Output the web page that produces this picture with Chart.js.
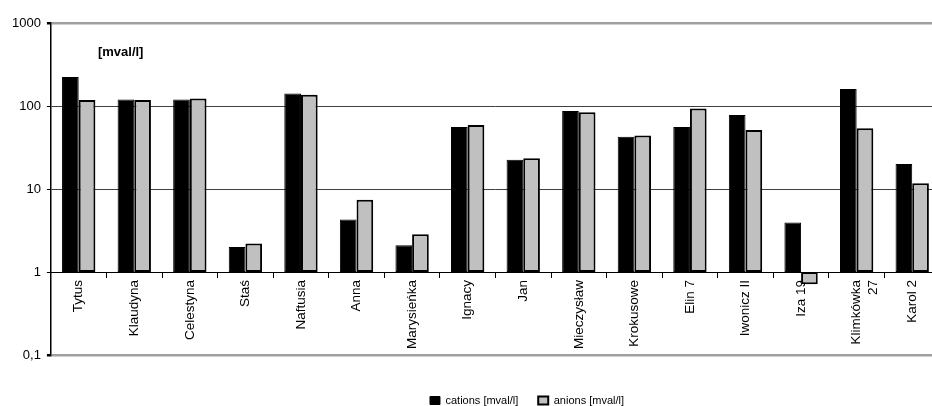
<!DOCTYPE html>
<html>
<head>
<meta charset="utf-8">
<script src="https://cdn.jsdelivr.net/npm/chart.js@4.4.1/dist/chart.umd.min.js"></script>
<style>
  html, body { margin: 0; padding: 0; background: #fff; overflow: hidden; }
  #wrap { position: relative; width: 942px; height: 406px; }
</style>
</head>
<body>
<div id="wrap"><canvas id="chart"></canvas></div>
<script>
// categories (springs)
const categories = ['Tytus', 'Klaudyna', 'Celestyna', 'Staś', 'Naftusia', 'Anna', 'Marysieńka',
    'Ignacy', 'Jan', 'Mieczysław', 'Krokusowe', 'Elin 7', 'Iwonicz II', 'Iza 19', ['Klimkówka', '27'], 'Karol 2'];
// series values [mval/l]
const cations = [224, 120, 120, 2.0, 141, 4.3, 2.1, 56, 22.5, 87, 42.5, 56, 78, 3.95, 160, 20];
const anions = [118, 118, 123, 2.2, 137, 7.4, 2.85, 59, 23.4, 84, 44, 93, 51.5, 0.71, 54, 11.7];
// y axis ticks and labels
const yTicks = [0.1, 1, 10, 100, 1000];
const yTickLabels = ['0,1', '1', '10', '100', '1000'];
const seriesNames = ['cations [mval/l]', 'anions [mval/l]'];
const unitLabel = '[mval/l]';
// bars start at the axis crossing (1), like in the spreadsheet
const baseline = 1;

const FONT = "Arial, 'Liberation Sans', sans-serif";

// unit label inside the plot area
const unitText = {
    id: 'unitText',
    afterDraw(chart) {
        const {ctx, chartArea} = chart;
        ctx.save();
        ctx.font = 'bold 13px ' + FONT;
        ctx.fillStyle = '#000';
        ctx.textAlign = 'left';
        ctx.textBaseline = 'middle';
        ctx.fillText(unitLabel, chartArea.left + 47, chartArea.top + 29);
        ctx.restore();
    }
};

// legend sits lower and to the right of the centre in the original
const legendShift = {
    id: 'legendShift',
    afterLayout(chart) {
        const lg = chart.legend;
        lg.left += 54; lg.right += 54;
        lg.top += 20; lg.bottom += 20;
    }
};

const gridColor = (ctx) => {
    const v = ctx.tick && ctx.tick.value;
    if (v === 1000 || v === 0.1) return '#a0a0a0';
    if (v === 1) return '#000';
    return '#404040';
};
const gridWidth = (ctx) => {
    const v = ctx.tick && ctx.tick.value;
    return (v === 1000 || v === 0.1) ? 2.5 : 1;
};

new Chart(document.getElementById('chart'), {
    type: 'bar',
    data: {
        labels: categories,
        datasets: [
            {
                label: seriesNames[0],
                data: cations.map(v => [baseline, v]),
                backgroundColor: '#000',
                borderColor: '#000',
                borderWidth: 1,
                borderSkipped: false
            },
            {
                label: seriesNames[1],
                data: anions.map(v => [baseline, v]),
                backgroundColor: '#c0c0c0',
                borderColor: '#000',
                borderWidth: 2,
                borderSkipped: false
            }
        ]
    },
    options: {
        responsive: true,
        maintainAspectRatio: false,
        animation: false,
        layout: { padding: { left: 6, right: 2, top: 23, bottom: 10 } },
        datasets: { bar: { categoryPercentage: 0.6, barPercentage: 1 } },
        scales: {
            x: {
                type: 'category',
                position: { y: baseline },
                offset: true,
                grid: { drawOnChartArea: false, drawTicks: true, tickLength: 5, color: '#000', offset: true },
                border: { display: true, color: '#000', width: 1 },
                ticks: {
                    autoSkip: false, minRotation: 90, maxRotation: 90, padding: 3,
                    color: '#000', font: { family: FONT, size: 13.5 }
                }
            },
            y: {
                type: 'logarithmic',
                min: yTicks[0],
                max: yTicks[yTicks.length - 1],
                afterBuildTicks: (scale) => { scale.ticks = yTicks.map(v => ({value: v})); },
                grid: { color: gridColor, lineWidth: gridWidth, tickColor: '#000', tickLength: 4 },
                border: { display: true, color: '#000', width: 1.5 },
                ticks: {
                    padding: 6, color: '#000', font: { family: FONT, size: 13 },
                    callback: (value) => yTickLabels[yTicks.indexOf(value)]
                }
            }
        },
        plugins: {
            legend: {
                position: 'bottom',
                labels: {
                    boxWidth: 10, boxHeight: 8, padding: 20,
                    color: '#000', font: { family: FONT, size: 11 }
                }
            },
            tooltip: { enabled: false }
        }
    },
    plugins: [unitText, legendShift]
});
</script>
</body>
</html>
